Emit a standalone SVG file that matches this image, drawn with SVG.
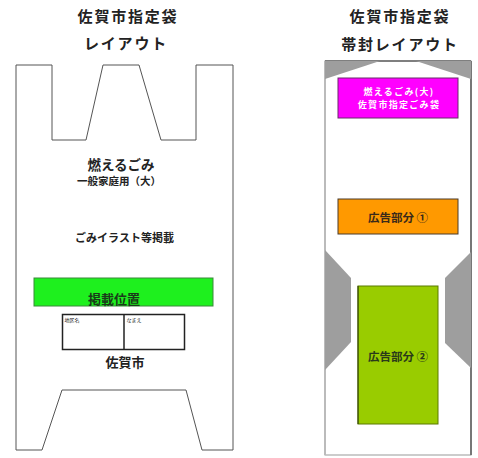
<svg xmlns="http://www.w3.org/2000/svg" width="478" height="458" viewBox="0 0 478 458">
<style>
text{font-family:"Noto Sans CJK JP","Noto Sans",sans-serif;font-weight:bold;text-anchor:middle;fill:#222}
.title{font-size:15px;letter-spacing:1.8px}
.gray{fill:#9e9e9e}
.small{font-size:5px;font-weight:normal;text-anchor:start}
.w{fill:#fff;font-size:9px;letter-spacing:1.3px}
</style>
<rect width="478" height="458" fill="#fff"/>
<g id="left-title">
<text class="title" x="128" y="22">佐賀市指定袋</text>
<text class="title" x="126" y="49">レイアウト</text>
</g>
<g id="left-bag">
<path d="M16,65 L52,65 L52,140 L86,140 L103,65 L139,65 L161,140 L196,140 L196,65 L233,65 L233,450 L202,450 L186,390 L62,390 L42,450 L16,450 Z" fill="#fff" stroke="#555" stroke-width="1"/>
<text x="121" y="170" style="font-size:13.5px">燃えるごみ</text>
<text x="119" y="185" style="font-size:10.5px">一般家庭用（大）</text>
<text x="124.5" y="242" style="font-size:11px">ごみイラスト等掲載</text>
</g>
<g id="left-green">
<rect x="34" y="278" width="179" height="28" fill="#1ef01e" stroke="#3a8a3a" stroke-width="1"/>
<text x="114" y="304" style="font-size:13px;fill:#1a3a1a">掲載位置</text>
</g>
<g id="left-table">
<rect x="62.5" y="314.5" width="122" height="35" fill="#fff" stroke="#222" stroke-width="1.5"/>
<line x1="124" y1="314.5" x2="124" y2="349.5" stroke="#222" stroke-width="1.5"/>
<text class="small" x="64.5" y="322">地区名</text>
<text class="small" x="126.5" y="322">なまえ</text>
<text x="125" y="367" style="font-size:13px">佐賀市</text>
</g>
<g id="right-title">
<text class="title" x="400" y="22">佐賀市指定袋</text>
<text class="title" x="400" y="50">帯封レイアウト</text>
</g>
<g id="right-bag">
<rect x="325" y="61" width="146" height="394" fill="#fff" stroke="#999" stroke-width="1"/>
<line x1="325" y1="61" x2="325" y2="455" stroke="#bbb" stroke-width="2"/>
<line x1="471" y1="61" x2="471" y2="455" stroke="#777" stroke-width="2"/>
<line x1="325" y1="61" x2="471" y2="61" stroke="#666" stroke-width="1.5"/>
<polygon class="gray" points="325,61 380,61 325,79"/>
<polygon class="gray" points="471,61 416,61 471,79"/>
<polygon class="gray" points="325,250 351,278 351,342 325,370"/>
<polygon class="gray" points="471,252 445,278 445,343 471,368"/>
</g>
<g id="right-magenta">
<rect x="338" y="78" width="120" height="40" fill="#f0f" stroke="#6a2a6a" stroke-width="1"/>
<text class="w" x="399" y="95">燃えるごみ(大)</text>
<text class="w" x="399" y="108">佐賀市指定ごみ袋</text>
</g>
<g id="right-orange">
<rect x="338" y="199" width="120" height="35" fill="#ff9900" stroke="#4a3a2a" stroke-width="1"/>
<text x="398" y="222" style="font-size:11.5px;fill:#3a2a1a">広告部分 ①</text>
</g>
<g id="right-green">
<rect x="358" y="286" width="80" height="138" fill="#99cc00" stroke="#5a7a00" stroke-width="1"/>
<line x1="358" y1="286" x2="358" y2="424" stroke="#2a3a00" stroke-width="1"/>
<text x="398" y="361" style="font-size:11.5px;fill:#2a3a1a">広告部分 ②</text>
</g>
<g id="connectors"/>
</svg>
